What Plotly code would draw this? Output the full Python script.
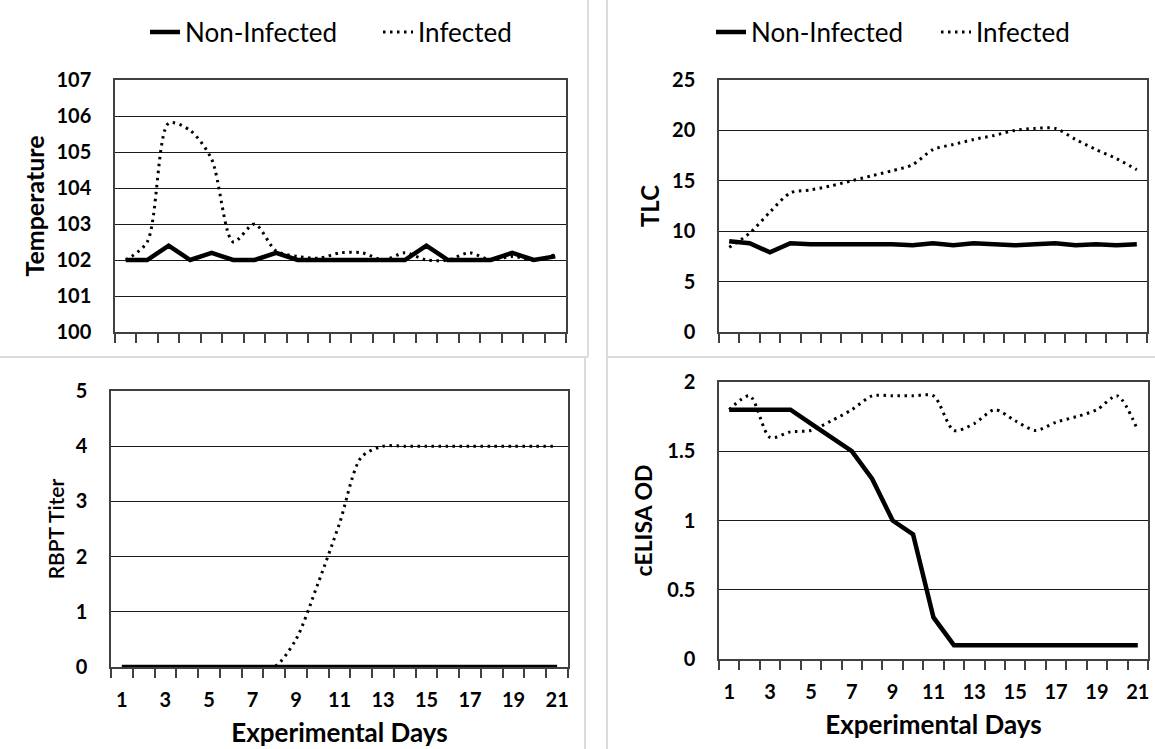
import plotly.graph_objects as go

W, H = 1155, 749

days = list(range(1, 22))
odd_days = [d for d in days if d % 2 == 1]
odd_labels = [str(d) for d in odd_days]

series_names = ["Non-Infected", "Infected"]

temp_non_infected = [102, 102, 102.4, 102, 102.2, 102, 102, 102.2, 102, 102, 102,
                     102, 102, 102, 102.4, 102, 102, 102, 102.2, 102, 102.1]
temp_infected = [102, 102.5, 105.8, 105.6, 104.8, 102.5, 103.0, 102.25, 102.1, 102.05, 102.2,
                 102.2, 102.0, 102.2, 102.0, 102.0, 102.2, 102.0, 102.1, 102.0, 102.15]

tlc_non_infected = [9.0, 8.8, 7.9, 8.8, 8.7, 8.7, 8.8, 8.8, 8.7, 8.6, 8.8,
                    8.6, 8.8, 8.7, 8.6, 8.7, 8.8, 8.6, 8.7, 8.6, 8.7]
tlc_infected = [8.4, 9.8, 11.9, 13.8, 14.1, 14.5, 15.0, 15.5, 16.0, 16.6, 18.1,
                18.6, 19.1, 19.5, 20.0, 20.2, 20.2, 19.1, 18.1, 17.2, 16.1]

rbpt_non_infected = [0] * 21
rbpt_infected = [0, 0, 0, 0, 0, 0, 0, 0, 0.5, 1.5, 2.6,
                 3.8, 4, 4, 4, 4, 4, 4, 4, 4, 4]

elisa_non_infected = [1.8, 1.8, 1.8, 1.8, 1.7, 1.6, 1.5, 1.3, 1.0, 0.9, 0.3,
                      0.1, 0.1, 0.1, 0.1, 0.1, 0.1, 0.1, 0.1, 0.1, 0.1]
elisa_infected = [1.8, 1.9, 1.6, 1.64, 1.65, 1.72, 1.8, 1.9, 1.9, 1.9, 1.9,
                  1.65, 1.7, 1.8, 1.72, 1.65, 1.71, 1.75, 1.8, 1.9, 1.65]

y_titles = ["Temperature", "TLC", "RBPT Titer", "cELISA OD"]
x_title = "Experimental Days"

FONT = "Lato"
BLACK = "#000000"
FRAME = "#404040"
SEP = "#dcdcdc"

fig = go.Figure()


def xd(a, b):
    return [a / W, b / W]


def yd(top, bottom):
    return [1 - bottom / H, 1 - top / H]


panels = [
    dict(x=xd(115, 566), y=yd(80, 332), yr=[100, 107], dt=1, yt=y_titles[0], ytsize=25, so=5,
         ni=temp_non_infected, inf=temp_infected, labels=False, legend="legend"),
    dict(x=xd(719, 1147), y=yd(80, 332), yr=[0, 25], dt=5, yt=y_titles[1], ytsize=24, so=6,
         ni=tlc_non_infected, inf=tlc_infected, labels=False, legend="legend2"),
    dict(x=xd(111, 568), y=yd(391, 667), yr=[0, 5], dt=1, yt=y_titles[2], ytsize=21, so=5,
         ni=rbpt_non_infected, inf=rbpt_infected, labels=True, legend=None),
    dict(x=xd(719, 1148), y=yd(382, 659), yr=[0, 2], dt=0.5, yt=y_titles[3], ytsize=23, so=8,
         ni=elisa_non_infected, inf=elisa_infected, labels=True, legend=None),
]

layout = dict(
    width=W, height=H,
    margin=dict(l=0, r=0, t=0, b=0, autoexpand=False),
    paper_bgcolor="white", plot_bgcolor="white",
    font=dict(family=FONT, color=BLACK),
    showlegend=True,
)

for i, p in enumerate(panels, start=1):
    xa = "x" if i == 1 else f"x{i}"
    ya = "y" if i == 1 else f"y{i}"
    show = p["legend"] is not None
    lg = p["legend"] if show else "legend"
    fig.add_trace(go.Scatter(
        x=days, y=p["ni"], name=series_names[0], mode="lines",
        line=dict(color=BLACK, width=4.5),
        xaxis=xa, yaxis=ya, showlegend=show, legend=lg, cliponaxis=False))
    fig.add_trace(go.Scatter(
        x=days, y=p["inf"], name=series_names[1], mode="lines",
        line=dict(color=BLACK, width=3, dash="2.5px,4.5px", shape="spline", smoothing=0.8),
        xaxis=xa, yaxis=ya, showlegend=show, legend=lg, cliponaxis=False))

    xkey = "xaxis" if i == 1 else f"xaxis{i}"
    ykey = "yaxis" if i == 1 else f"yaxis{i}"
    layout[xkey] = dict(
        domain=p["x"], anchor=ya, range=[0.5, 21.5],
        tickmode="array", tickvals=odd_days, ticktext=odd_labels,
        showticklabels=p["labels"], ticks="outside", ticklen=9, tickcolor="rgba(0,0,0,0)",
        ticklabelstandoff=5,
        tickfont=dict(family=FONT, size=20, weight="bold", color=BLACK),
        minor=dict(tick0=0.5, dtick=1, ticks="outside", ticklen=9, tickwidth=1.5, tickcolor=FRAME),
        showgrid=False, zeroline=False,
        showline=True, linecolor=FRAME, linewidth=1.5, mirror=True,
        title=dict(text=x_title if p["labels"] else "", standoff=14,
                   font=dict(family=FONT, size=26, weight="bold", color=BLACK)),
    )
    layout[ykey] = dict(
        domain=p["y"], anchor=xa, range=p["yr"], dtick=p["dt"], tick0=0,
        ticks="", ticklabelstandoff=18,
        tickfont=dict(family=FONT, size=20, weight="bold", color=BLACK),
        showgrid=True, gridcolor="#1a1a1a", gridwidth=1, zeroline=False,
        showline=True, linecolor=FRAME, linewidth=1.5, mirror=True,
        title=dict(text=p["yt"], standoff=p["so"],
                   font=dict(family=FONT, size=p["ytsize"],
                             weight="bold" if i != 3 else 600, color=BLACK)),
    )

legend_font = dict(family=FONT, size=26, color=BLACK)
layout["legend"] = dict(orientation="h", x=145 / W, y=1 - 32 / H, xanchor="left", yanchor="middle",
                        font=legend_font, bgcolor="rgba(0,0,0,0)", itemwidth=30,
                        entrywidth=188, entrywidthmode="pixels")
layout["legend2"] = dict(orientation="h", x=711 / W, y=1 - 32 / H, xanchor="left", yanchor="middle",
                         font=legend_font, bgcolor="rgba(0,0,0,0)", itemwidth=30,
                         entrywidth=180, entrywidthmode="pixels")


def px_line(x0, y0, x1, y1):
    return dict(type="line", xref="paper", yref="paper",
                x0=x0 / W, x1=x1 / W, y0=1 - y0 / H, y1=1 - y1 / H,
                line=dict(color=SEP, width=2))


layout["shapes"] = [
    px_line(588, 0, 588, 357),
    px_line(585, 357, 585, 749),
    px_line(607, 0, 607, 749),
    px_line(0, 357, 588, 357),
    px_line(607, 357, 1155, 357),
]

fig.update_layout(**layout)
fig.write_html("out.html", config={"displayModeBar": False},
               post_script="document.body.style.margin='0px';")
